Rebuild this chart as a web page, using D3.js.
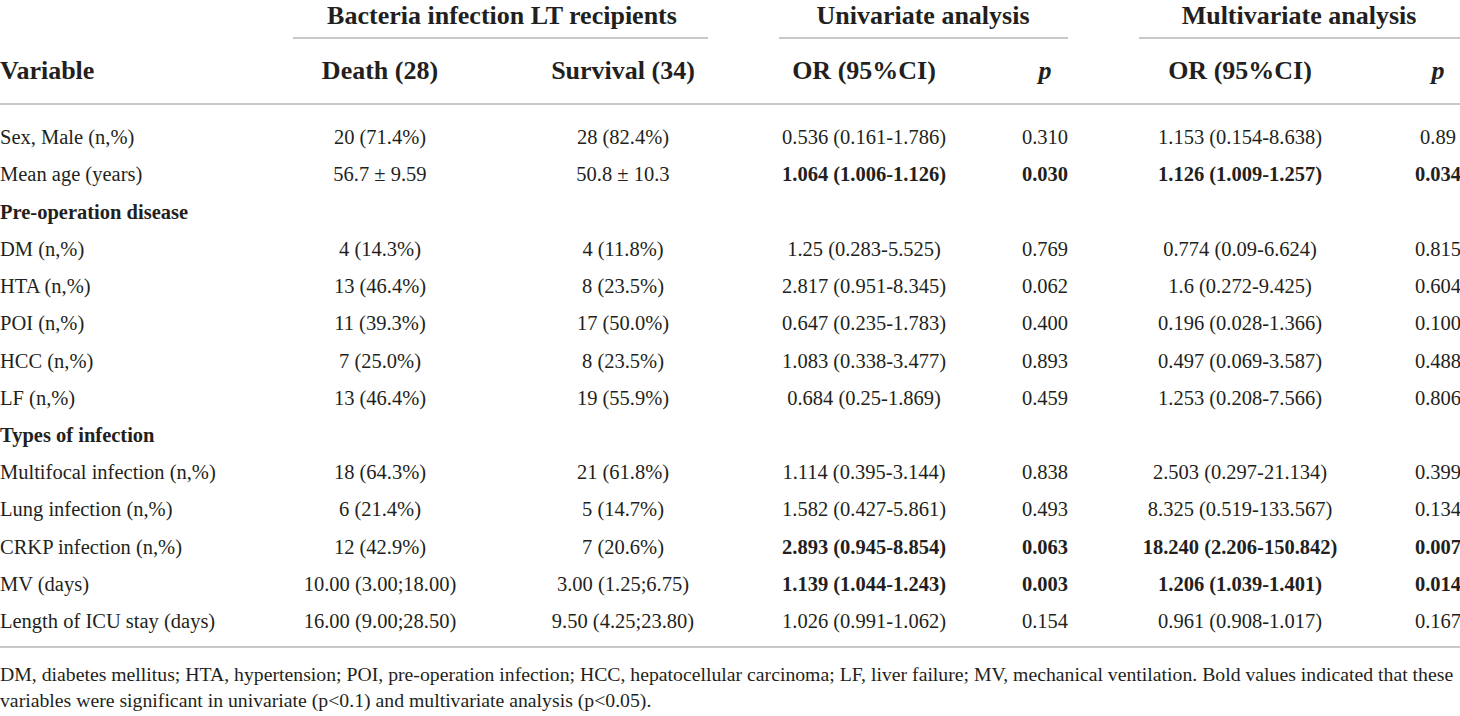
<!DOCTYPE html>
<html><head><meta charset="utf-8">
<script src="https://cdn.jsdelivr.net/npm/d3@7"></script>
<style>
html,body{margin:0;padding:0;background:#fff;}
svg{display:block;}
text{font-family:"Liberation Serif","Times New Roman",serif;fill:#231f20;}
</style></head><body>
<svg id="c" width="1460" height="716"></svg>
<script>
const groupHeaders = ["Bacteria infection LT recipients", "Univariate analysis", "Multivariate analysis"];
const colHeaders = ["Variable", "Death (28)", "Survival (34)", "OR (95%CI)", "p", "OR (95%CI)", "p"];
const variables = ["Sex, Male (n,%)", "Mean age (years)", "Pre-operation disease", "DM (n,%)", "HTA (n,%)", "POI (n,%)", "HCC (n,%)", "LF (n,%)", "Types of infection", "Multifocal infection (n,%)", "Lung infection (n,%)", "CRKP infection (n,%)", "MV (days)", "Length of ICU stay (days)"];
const sectionRow = [false, false, true, false, false, false, false, false, true, false, false, false, false, false];
const death = ["20 (71.4%)", "56.7 ± 9.59", "", "4 (14.3%)", "13 (46.4%)", "11 (39.3%)", "7 (25.0%)", "13 (46.4%)", "", "18 (64.3%)", "6 (21.4%)", "12 (42.9%)", "10.00 (3.00;18.00)", "16.00 (9.00;28.50)"];
const survival = ["28 (82.4%)", "50.8 ± 10.3", "", "4 (11.8%)", "8 (23.5%)", "17 (50.0%)", "8 (23.5%)", "19 (55.9%)", "", "21 (61.8%)", "5 (14.7%)", "7 (20.6%)", "3.00 (1.25;6.75)", "9.50 (4.25;23.80)"];
const uniOR = ["0.536 (0.161-1.786)", "1.064 (1.006-1.126)", "", "1.25 (0.283-5.525)", "2.817 (0.951-8.345)", "0.647 (0.235-1.783)", "1.083 (0.338-3.477)", "0.684 (0.25-1.869)", "", "1.114 (0.395-3.144)", "1.582 (0.427-5.861)", "2.893 (0.945-8.854)", "1.139 (1.044-1.243)", "1.026 (0.991-1.062)"];
const uniP = ["0.310", "0.030", "", "0.769", "0.062", "0.400", "0.893", "0.459", "", "0.838", "0.493", "0.063", "0.003", "0.154"];
const multiOR = ["1.153 (0.154-8.638)", "1.126 (1.009-1.257)", "", "0.774 (0.09-6.624)", "1.6 (0.272-9.425)", "0.196 (0.028-1.366)", "0.497 (0.069-3.587)", "1.253 (0.208-7.566)", "", "2.503 (0.297-21.134)", "8.325 (0.519-133.567)", "18.240 (2.206-150.842)", "1.206 (1.039-1.401)", "0.961 (0.908-1.017)"];
const multiP = ["0.89", "0.034", "", "0.815", "0.604", "0.100", "0.488", "0.806", "", "0.399", "0.134", "0.007", "0.014", "0.167"];
const boldRow = [false, true, false, false, false, false, false, false, false, false, false, true, true, false];
const footnote = ["DM, diabetes mellitus; HTA, hypertension; POI, pre-operation infection; HCC, hepatocellular carcinoma; LF, liver failure; MV, mechanical ventilation. Bold values indicated that these",
                  "variables were significant in univariate (p<0.1) and multivariate analysis (p<0.05)."];

const svg = d3.select("#c");
const colKeys = ["var", "death", "surv", "uor", "up", "mor", "mp"];
const colX = d3.scaleOrdinal().domain(colKeys).range([0, 380, 623, 864, 1045, 1240, 1438]);
const groupSpan = [[293, 708], [779, 1068], [1139, 1460]];
const groupCenter = [502, 923, 1299];
const y = d3.scalePoint().domain(d3.range(variables.length)).range([137, 621]);
const lineColor = "#c8c8c8";
const headSize = 26, bodySize = 20.5;

groupHeaders.forEach((g, i) => {
  svg.append("text").attr("x", groupCenter[i]).attr("y", 15)
    .attr("dy", "0.35em").attr("text-anchor", "middle").attr("font-size", headSize).attr("font-weight", "bold").text(g);
  svg.append("line").attr("x1", groupSpan[i][0]).attr("x2", groupSpan[i][1]).attr("y1", 38).attr("y2", 38)
    .attr("stroke", lineColor).attr("stroke-width", 2);
});
colHeaders.forEach((h, i) => {
  const k = colKeys[i];
  svg.append("text").attr("x", colX(k)).attr("y", 70).attr("dy", "0.35em")
    .attr("text-anchor", i === 0 ? "start" : "middle").attr("font-size", headSize).attr("font-weight", "bold")
    .attr("font-style", h === "p" ? "italic" : null).text(h);
});
svg.append("line").attr("x1", 0).attr("x2", 1460).attr("y1", 104).attr("y2", 104).attr("stroke", lineColor).attr("stroke-width", 2);
svg.append("line").attr("x1", 0).attr("x2", 1460).attr("y1", 647).attr("y2", 647).attr("stroke", lineColor).attr("stroke-width", 2);

const cols = [variables, death, survival, uniOR, uniP, multiOR, multiP];
cols.forEach((arr, ci) => {
  svg.append("g").selectAll("text").data(arr).join("text")
    .attr("x", colX(colKeys[ci])).attr("y", (d, i) => y(i)).attr("dy", "0.35em")
    .attr("text-anchor", ci === 0 ? "start" : "middle")
    .attr("font-size", bodySize)
    .attr("font-weight", (d, i) => (ci === 0 ? sectionRow[i] : (ci >= 3 && boldRow[i])) ? "bold" : null)
    .text(d => d);
});

const fn = svg.append("g").selectAll("text").data(footnote).join("text")
  .attr("x", 0).attr("y", (d, i) => 674 + i * 26).attr("dy", "0.35em").attr("font-size", 20).text(d => d);
// fit the long first footnote line within the page width
const maxW = 1454;
const w0 = fn.nodes()[0].getComputedTextLength();
const fs = w0 > maxW ? 20 * maxW / w0 : 20;
fn.attr("font-size", fs);
</script></body></html>
